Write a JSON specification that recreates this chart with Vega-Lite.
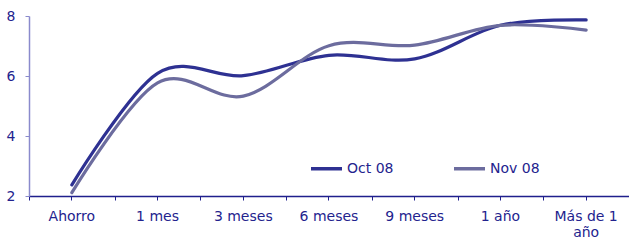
{
  "$schema": "https://vega.github.io/schema/vega-lite/v6.json",
  "width": 600,
  "height": 180,
  "autosize": {"type": "none"},
  "padding": {"left": 29, "top": 16, "right": 0, "bottom": 45},
  "background": "white",
  "config": {
    "view": {"stroke": null},
    "font": "DejaVu Sans",
    "axis": {"labelFont": "DejaVu Sans", "labelFontSize": 14, "labelColor": "#23238E", "grid": false, "title": null}
  },
  "data": {
    "values": [
      {"plazo": "Ahorro", "serie": "Oct 08", "tipo": 2.37},
      {"plazo": "1 mes", "serie": "Oct 08", "tipo": 6.09},
      {"plazo": "3 meses", "serie": "Oct 08", "tipo": 6.01},
      {"plazo": "6 meses", "serie": "Oct 08", "tipo": 6.69},
      {"plazo": "9 meses", "serie": "Oct 08", "tipo": 6.57},
      {"plazo": "1 año", "serie": "Oct 08", "tipo": 7.69},
      {"plazo": "Más de 1 año", "serie": "Oct 08", "tipo": 7.87},
      {"plazo": "Ahorro", "serie": "Nov 08", "tipo": 2.11},
      {"plazo": "1 mes", "serie": "Nov 08", "tipo": 5.77},
      {"plazo": "3 meses", "serie": "Nov 08", "tipo": 5.33},
      {"plazo": "6 meses", "serie": "Nov 08", "tipo": 7.01},
      {"plazo": "9 meses", "serie": "Nov 08", "tipo": 7.03},
      {"plazo": "1 año", "serie": "Nov 08", "tipo": 7.69},
      {"plazo": "Más de 1 año", "serie": "Nov 08", "tipo": 7.53}
    ]
  },
  "layer": [
    {
      "mark": {"type": "tick", "opacity": 0},
      "encoding": {
        "x": {
          "field": "plazo", "type": "ordinal",
          "sort": ["Ahorro", "1 mes", "3 meses", "6 meses", "9 meses", "1 año", "Más de 1 año"],
          "scale": {"type": "band", "paddingInner": 0, "paddingOuter": 0},
          "axis": {"orient": "bottom", "tickBand": "extent", "labels": false, "domain": false, "ticks": true, "tickSize": 4, "tickColor": "#1F1F8C", "tickWidth": 1}
        },
        "y": {"field": "tipo", "type": "quantitative", "scale": {"domain": [2, 8], "zero": false, "nice": false},
          "axis": {"values": [2, 4, 6, 8], "tickSize": 4, "tickColor": "#8A8ACC", "domainColor": "#8A8ACC", "domainWidth": 1.5, "labelPadding": 10}}
      }
    },
    {
      "mark": {"type": "line", "interpolate": "cardinal", "strokeWidth": 3.2, "strokeCap": "round"},
      "encoding": {
        "x": {
          "field": "plazo", "type": "ordinal",
          "sort": ["Ahorro", "1 mes", "3 meses", "6 meses", "9 meses", "1 año", "Más de 1 año"],
          "scale": {"type": "band", "paddingInner": 0, "paddingOuter": 0},
          "axis": {"orient": "bottom", "labelAngle": 0, "tickSize": 4, "tickColor": "#1F1F8C", "domainColor": "#1F1F8C", "domainWidth": 1.5, "labelPadding": 9, "labelLineHeight": 16,
            "labelExpr": "datum.label == 'Más de 1 año' ? ['Más de 1', 'año'] : datum.label"}
        },
        "y": {"field": "tipo", "type": "quantitative"},
        "color": {
          "field": "serie", "type": "nominal",
          "scale": {"domain": ["Oct 08", "Nov 08"], "range": ["#2E3192", "#6C6C9E"]},
          "legend": {
            "orient": "none", "legendX": 280, "legendY": 135, "direction": "horizontal",
            "title": null, "padding": 0, "symbolType": "stroke", "symbolSize": 961, "symbolStrokeWidth": 3.5,
            "labelFont": "DejaVu Sans", "labelFontSize": 14, "labelColor": "#23238E", "labelOffset": 3, "columnPadding": 53
          }
        },
        "order": {"field": "serie", "sort": "descending"}
      }
    }
  ],
  "resolve": {"axis": {"x": "independent"}}
}
